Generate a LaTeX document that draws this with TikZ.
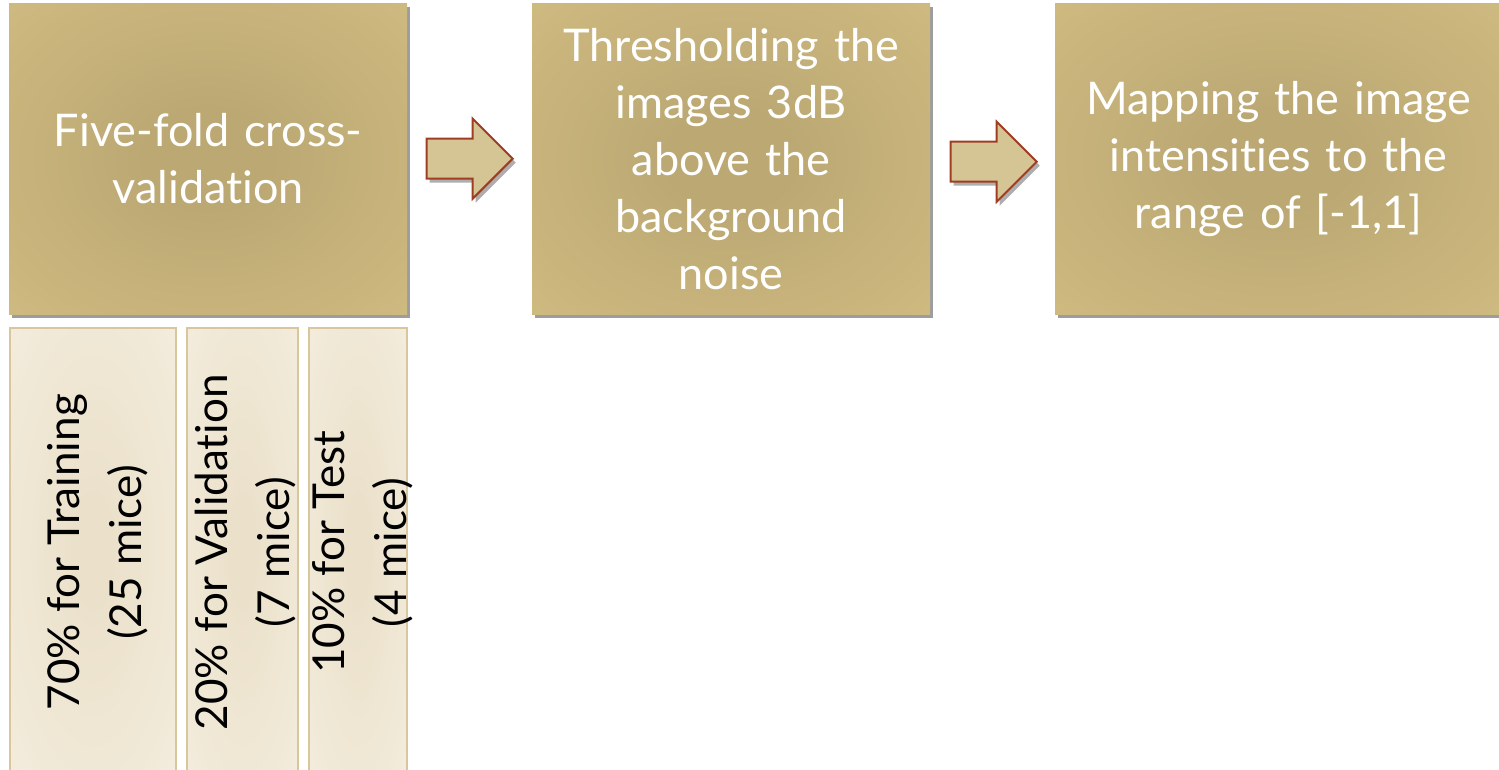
\documentclass[tikz,border=0pt]{standalone}
\usepackage{fontspec}
\setmainfont{Lato}[Ligatures={NoCommon,NoContextual},RawFeature={-liga;-clig;-dlig}]
\usetikzlibrary{shadows,calc}
\definecolor{gc}{HTML}{BCA873}
\definecolor{ge}{HTML}{D3BF83}
\definecolor{gk}{HTML}{D2C193}
\definecolor{lc}{HTML}{EBE1CB}
\definecolor{le}{HTML}{F4EDDE}
\definecolor{lk}{HTML}{F8F4EA}
\definecolor{lborder}{HTML}{D8C79C}
\definecolor{afill}{HTML}{D5C494}
\definecolor{aborder}{HTML}{9E3D22}
\pgfdeclareradialshading{goldshade}{\pgfpoint{0bp}{0bp}}{color(0bp)=(gc); color(8bp)=(gc); color(42bp)=(ge); color(50bp)=(ge); color(71bp)=(gk)}
\pgfdeclareradialshading{lightshade}{\pgfpoint{0bp}{0bp}}{color(0bp)=(lc); color(6bp)=(lc); color(38bp)=(le); color(71bp)=(lk)}
\tikzset{
  bigbox/.style={shading=goldshade, draw=none, anchor=north west, text=white,
    align=center, minimum height=311pt, inner sep=0pt,
    font=\fontsize{45}{57}\selectfont,
    drop shadow={shadow xshift=3pt, shadow yshift=-4pt, opacity=0.55, fill=black!70}},
  splitbox/.style={shading=lightshade, draw=lborder, line width=1.5pt, anchor=north west,
    minimum height=445pt, inner sep=0pt},
  vtext/.style={rotate=90, align=center, text=black, font=\fontsize{44}{62}\selectfont, inner sep=0pt},
  blockarrow/.style={fill=afill, draw=aborder, line width=2pt, line join=miter,
    drop shadow={shadow xshift=3pt, shadow yshift=-4pt, opacity=0.45, fill=black!70}}
}
\begin{document}
\begin{tikzpicture}[x=1pt,y=-1pt]
\useasboundingbox (0,0) rectangle (1499,769);
\node[bigbox, minimum width=398pt, text width=380pt] (b1) at (9,3) {Five-fold cross-\\validation};
\node[bigbox, minimum width=398pt, text width=380pt] (b2) at (532,3) {Thresholding the\\images 3dB\\above the\\background\\noise};
\node[bigbox, minimum width=447pt, text width=420pt] (b3) at (1055,3) {Mapping the image\\intensities to the\\range of [-1,1]};
\node[splitbox, minimum width=166pt] (s1) at (9,327) {};
\node[splitbox, minimum width=111pt] (s2) at (186,327) {};
\node[splitbox, minimum width=98pt] (s3) at (308,327) {};
\node[vtext] (t1) at ($(s1.center)+(5,2)$) {70\% for Training\\(25 mice)};
\node[vtext] (t2) at ($(s2.center)+(3,2)$) {20\% for Validation\\(7 mice)};
\node[vtext] (t3) at ($(s3.center)+(5,2)$) {10\% for Test\\(4 mice)};
\coordinate (a1) at ($(b1.east)!0.5!(b2.west)+(0,0)$);
\coordinate (a2) at ($(b2.east)!0.5!(b3.west)+(1,3)$);
\foreach \c in {a1,a2}{
  \draw[blockarrow] ($(\c)+(-43,-20)$) -- ($(\c)+(3,-20)$) -- ($(\c)+(3,-40)$) -- ($(\c)+(43,0)$)
    -- ($(\c)+(3,40)$) -- ($(\c)+(3,20)$) -- ($(\c)+(-43,20)$) -- cycle;
}
\end{tikzpicture}
\end{document}
